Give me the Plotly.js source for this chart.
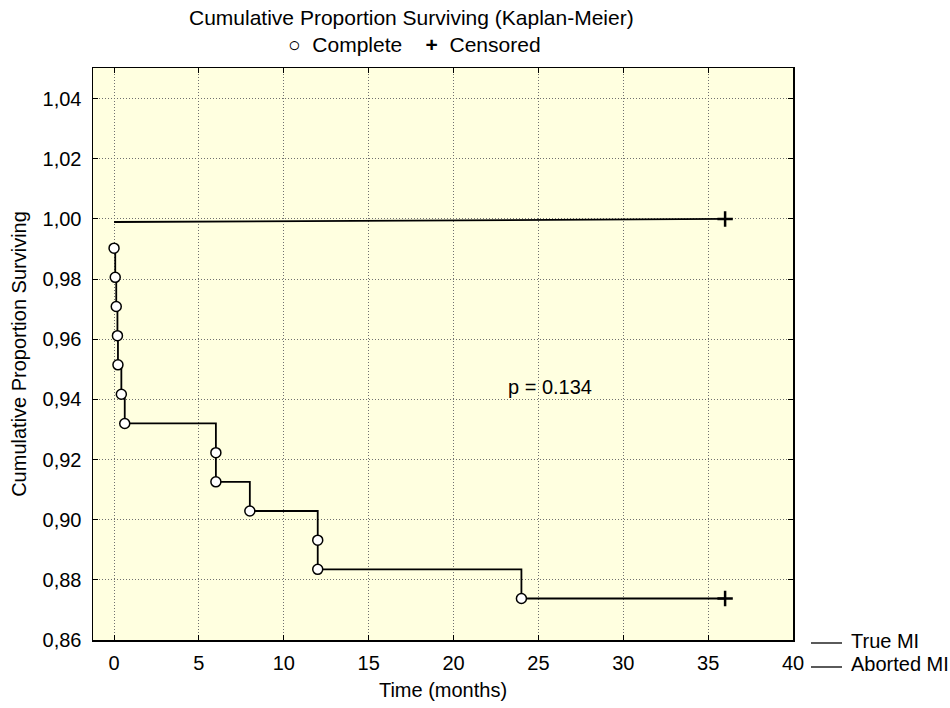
<!DOCTYPE html>
<html>
<head>
<meta charset="utf-8">
<script src="https://cdn.plot.ly/plotly-3.0.1.min.js"></script>
<style>html,body{margin:0;padding:0;background:#fff;} #chart{width:950px;height:708px;}</style>
</head>
<body>
<div id="chart"></div>
<script>
// True MI: complete (event) times and survival
const trueTime = [0, 0.07, 0.13, 0.2, 0.23, 0.43, 0.63, 6, 6, 8, 12, 12, 24];
const trueSurv = [0.9903, 0.9806, 0.9709, 0.9612, 0.9515, 0.9417, 0.9320, 0.9223, 0.9126, 0.9029, 0.8932, 0.8835, 0.8738];
// True MI: censored
const trueCensTime = [36];
const trueCensSurv = [0.8738];
// Aborted MI
const abortTime = [0, 36];
const abortSurv = [0.999, 1.0];
const abortCensTime = [36];
const abortCensSurv = [1.0];
// axis ticks
const xTicks = [0, 5, 10, 15, 20, 25, 30, 35, 40];
const yTicks = [0.86, 0.88, 0.90, 0.92, 0.94, 0.96, 0.98, 1.00, 1.02, 1.04];
const yTickText = yTicks.map(v => v.toFixed(2).replace('.', ','));
const pText = 'p = 0.134';

const FONT = 'Liberation Sans, Arial, sans-serif';

const traces = [
  {
    x: trueTime.concat(trueCensTime), y: trueSurv.concat(trueCensSurv),
    mode: 'lines', line: {shape: 'hv', color: '#000', width: 1.8},
    hoverinfo: 'skip', showlegend: false
  },
  {
    x: abortTime, y: abortSurv,
    mode: 'lines', line: {color: '#000', width: 1.8},
    hoverinfo: 'skip', showlegend: false
  },
  {
    x: trueTime, y: trueSurv, mode: 'markers',
    marker: {symbol: 'circle', size: 10, color: '#fff', line: {color: '#000', width: 1.5}},
    showlegend: false
  },
  {
    x: trueCensTime.concat(abortCensTime), y: trueCensSurv.concat(abortCensSurv), mode: 'markers',
    marker: {symbol: 'cross-thin', size: 11, color: '#000', line: {color: '#000', width: 2.5}},
    showlegend: false
  }
];

const layout = {
  width: 950, height: 708,
  margin: {l: 93, r: 157, t: 68, b: 68},
  paper_bgcolor: '#ffffff',
  plot_bgcolor: '#ffffe0',
  font: {family: FONT, size: 20, color: '#000'},
  showlegend: false,
  xaxis: {
    range: [-1.24, 40], tickvals: xTicks, ticktext: xTicks.map(String),
    ticks: 'inside', ticklen: 5, tickcolor: '#000', tickwidth: 1,
    showline: true, linecolor: '#000', linewidth: 1.5, mirror: 'ticks',
    showgrid: true, gridcolor: '#707070', griddash: '1px,2px', gridwidth: 1,
    zeroline: false, ticklabelstandoff: 4,
    tickfont: {size: 20},
    title: {text: 'Time (months)', font: {size: 20}, standoff: 10}
  },
  yaxis: {
    range: [0.86, 1.0502], tickvals: yTicks, ticktext: yTickText,
    ticks: 'inside', ticklen: 5, tickcolor: '#000', tickwidth: 1,
    showline: true, linecolor: '#000', linewidth: 1.5, mirror: 'ticks',
    showgrid: true, gridcolor: '#707070', griddash: '1px,2px', gridwidth: 1,
    zeroline: false, ticklabelstandoff: 6,
    tickfont: {size: 20},
    title: {text: 'Cumulative Proportion Surviving', font: {size: 20}, standoff: 10}
  },
  annotations: [
    {xref: 'paper', yref: 'paper', x: (411 - 93) / 700, y: 1 + (68 - 18) / 572, text: 'Cumulative Proportion Surviving (Kaplan-Meier)',
     showarrow: false, xanchor: 'center', yanchor: 'middle', font: {size: 21}},
    {xref: 'paper', yref: 'paper', x: (414 - 93) / 700, y: 1 + (68 - 44) / 572, text: '○  Complete    <b>+</b>  Censored',
     showarrow: false, xanchor: 'center', yanchor: 'middle', font: {size: 21}},
    {xref: 'x', yref: 'y', x: 23.1, y: 0.944, text: pText, showarrow: false, xanchor: 'left', yanchor: 'middle', font: {size: 20}},
    {xref: 'paper', yref: 'paper', x: (849 - 93) / 700, y: -(641 - 640) / 572, text: 'True MI',
     showarrow: false, xanchor: 'left', yanchor: 'middle', font: {size: 20}},
    {xref: 'paper', yref: 'paper', x: (849 - 93) / 700, y: -(664 - 640) / 572, text: 'Aborted MI',
     showarrow: false, xanchor: 'left', yanchor: 'middle', font: {size: 20}}
  ],
  shapes: [
    {type: 'line', xref: 'paper', yref: 'paper', x0: (811 - 93) / 700, x1: (842 - 93) / 700,
     y0: -(643 - 640) / 572, y1: -(643 - 640) / 572, line: {color: '#000', width: 1.3}},
    {type: 'line', xref: 'paper', yref: 'paper', x0: (811 - 93) / 700, x1: (842 - 93) / 700,
     y0: -(667 - 640) / 572, y1: -(667 - 640) / 572, line: {color: '#000', width: 1.3}}
  ]
};

Plotly.newPlot('chart', traces, layout, {displayModeBar: false, staticPlot: true});
</script>
</body>
</html>
